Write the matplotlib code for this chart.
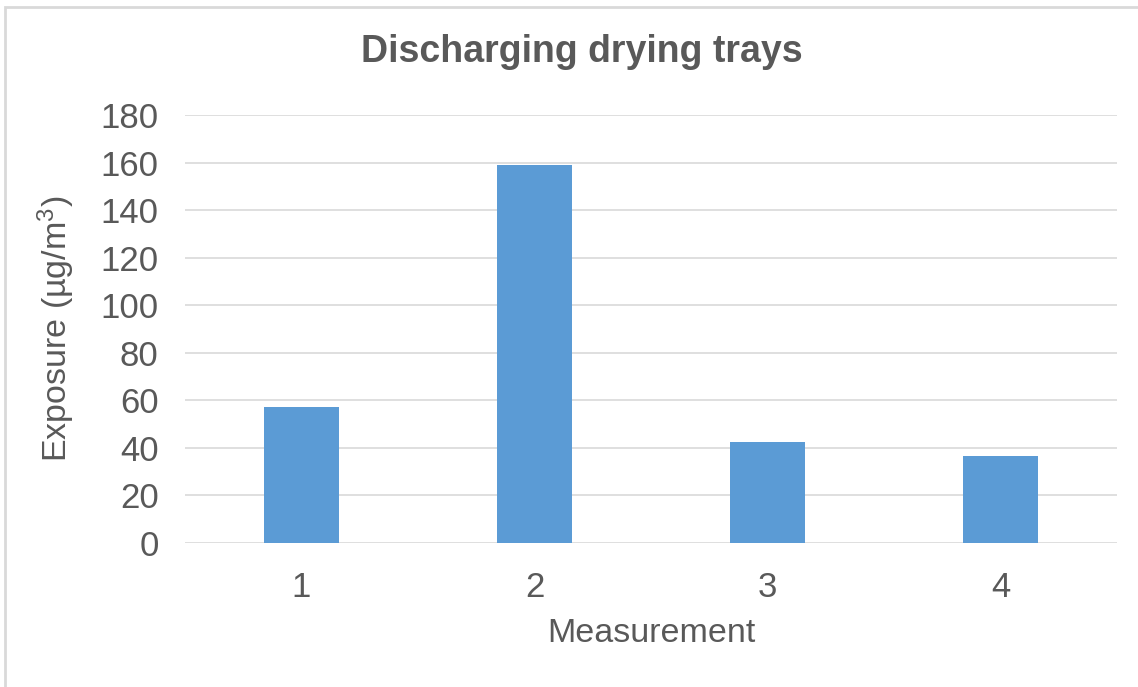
import matplotlib.pyplot as plt
from matplotlib.patches import Rectangle

# Data
measurements = ['1', '2', '3', '4']
exposure = [57.2, 159, 42.3, 36.6]
y_ticks = [0, 20, 40, 60, 80, 100, 120, 140, 160, 180]

BAR_COLOR = '#5B9BD5'
TEXT_COLOR = '#595959'
GRID_COLOR = '#D9D9D9'

plt.rcParams['font.family'] = ['Liberation Sans', 'DejaVu Sans']
plt.rcParams['mathtext.fontset'] = 'custom'
plt.rcParams['mathtext.rm'] = 'Liberation Sans'
plt.rcParams['mathtext.default'] = 'regular'

fig = plt.figure(figsize=(11.38, 6.87), dpi=100, facecolor='white')
ax = fig.add_axes([0.1626, 0.2096, 0.8189, 0.6230])

x = range(len(measurements))
ax.bar(x, exposure, width=0.32, color=BAR_COLOR, zorder=3)

ax.set_xlim(-0.5, len(measurements) - 0.5)
ax.set_ylim(0, 180)
ax.set_yticks(y_ticks)
ax.set_xticks(list(x))
ax.set_xticklabels(measurements)

ax.grid(axis='y', color=GRID_COLOR, linewidth=1.2, zorder=0)
for s in ax.spines.values():
    s.set_visible(False)
ax.tick_params(axis='both', length=0, labelsize=25, colors=TEXT_COLOR)
ax.tick_params(axis='y', pad=19)
ax.tick_params(axis='x', pad=20)

ax.set_xlabel('Measurement', fontsize=24.5, color=TEXT_COLOR, labelpad=10)
ax.set_ylabel('Exposure (µg/m$^3$)', fontsize=24.5, color=TEXT_COLOR, labelpad=17)

fig.text(0.511, 0.924, 'Discharging drying trays', ha='center', va='center',
         fontsize=27, fontweight='bold', color=TEXT_COLOR)

# outer chart frame
fig.patches.append(Rectangle((0.004, -0.01), 1.2, 1.0, transform=fig.transFigure,
                             facecolor='none', edgecolor='#D9D9D9', linewidth=2))

fig.savefig('out.png', dpi=100, facecolor='white')
